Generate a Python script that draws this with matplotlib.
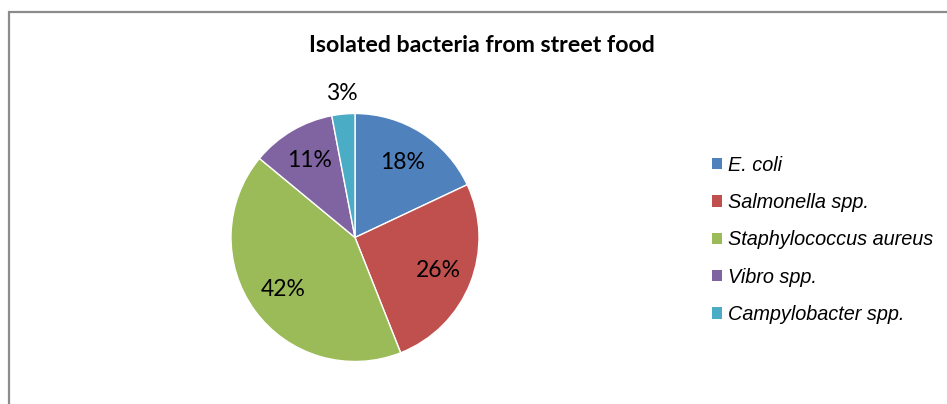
import matplotlib.pyplot as plt
from matplotlib.patches import Rectangle

bacteria = ['E. coli', 'Salmonella spp.', 'Staphylococcus aureus', 'Vibro spp.', 'Campylobacter spp.']
percent = [18, 26, 42, 11, 3]
colors = ['#4F81BD', '#C0504D', '#9BBB59', '#8064A2', '#4BACC6']

W, H = 947, 404
fig = plt.figure(figsize=(W/100, H/100), dpi=100)

# gray chart-area frame, running off the right and bottom edges
fig.patches.append(Rectangle((9/W, -0.05), 1.0, (H-12)/H + 0.05, transform=fig.transFigure,
                             fill=False, edgecolor='#8C8C8C', lw=1.6))

fig.text(482/W, 1-46/H, 'Isolated bacteria from street food', ha='center', va='center',
         fontsize=16.7, fontweight='bold', family='Lato')

# pie centred at (355, 237) px, radius ~124 px
cx, cy, r = 355, 237.5, 124
ax = fig.add_axes([(cx-r)/W, 1-(cy+r)/H, 2*r/W, 2*r/H])
wedges, texts, autotexts = ax.pie(percent, colors=colors, startangle=90, counterclock=False,
                                  autopct='%d%%', pctdistance=0.72,
                                  wedgeprops=dict(edgecolor='white', linewidth=1.0),
                                  textprops=dict(fontsize=16.5, family='Lato', color='black'))
# small slice label sits outside the pie
x, y = autotexts[-1].get_position()
autotexts[-1].set_position((x/0.72*1.17, y/0.72*1.17))
ax.set_xlim(-1, 1)
ax.set_ylim(-1, 1)
ax.set_aspect('equal')

leg = fig.legend(wedges, bacteria, loc='upper left', bbox_to_anchor=(694/W, 1-138/H),
                 frameon=False, handlelength=0.5, handleheight=0.5, handletextpad=0.3,
                 labelspacing=0.92, prop=dict(family='Liberation Sans', style='italic', size=14.3))
for h in leg.legend_handles:
    h.set_edgecolor('none')

fig.savefig('out.png', dpi=100)
